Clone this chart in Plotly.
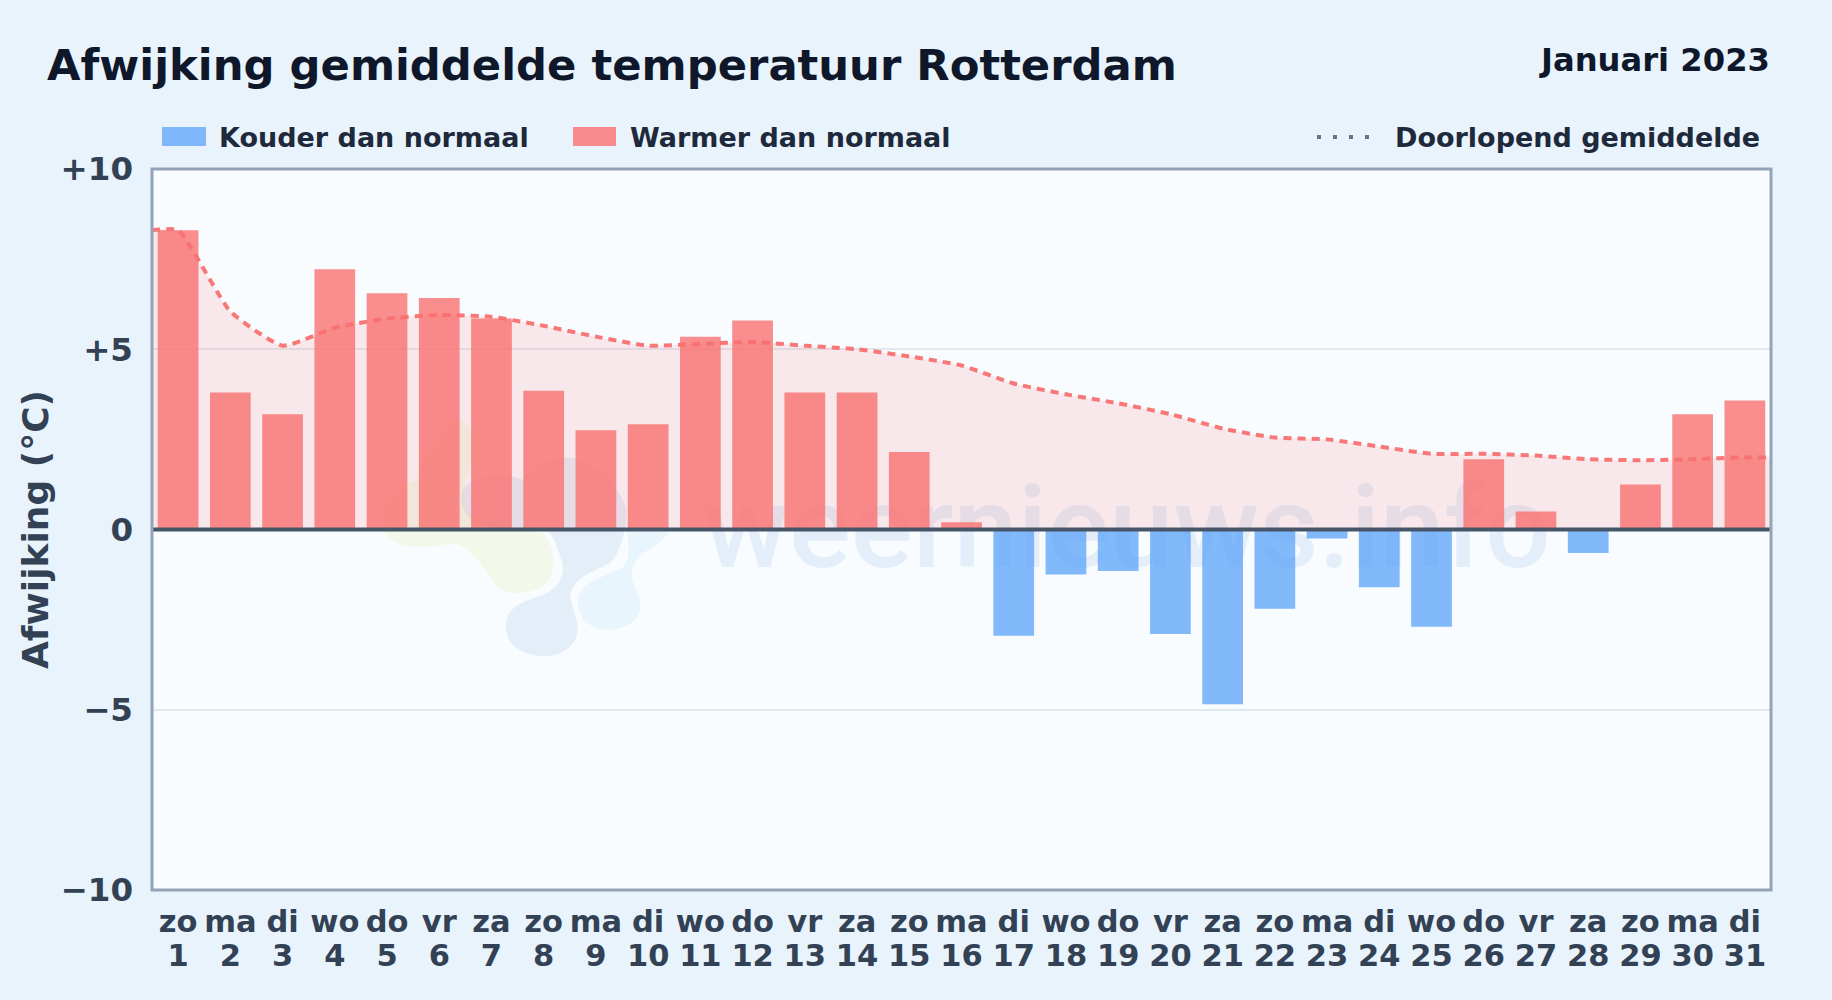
import re
import plotly.graph_objects as go

days = ["zo","ma","di","wo","do","vr","za","zo","ma","di","wo","do","vr","za","zo","ma","di","wo","do","vr","za","zo","ma","di","wo","do","vr","za","zo","ma","di"]
dates = list(range(1, 32))
deviation = [8.3,3.8,3.2,7.22,6.55,6.42,5.85,3.85,2.75,2.92,5.35,5.8,3.8,3.8,2.15,0.2,-2.95,-1.25,-1.15,-2.9,-4.85,-2.2,-0.25,-1.6,-2.7,1.95,0.5,-0.65,1.25,3.2,3.58]
running_x = [0.5]+dates+[31.5]
running = [8.3,8.3,6.05,5.1,5.6,5.85,5.95,5.9,5.65,5.35,5.1,5.15,5.2,5.1,5.0,4.8,4.55,4.05,3.75,3.5,3.2,2.8,2.55,2.5,2.3,2.1,2.1,2.05,1.95,1.92,1.95,2.0,2.0]
y_ticks = [10,5,0,-5,-10]
y_labels = ["+10","+5","0","−5","−10"]

RED="rgba(250,113,113,0.8)"; BLUE="rgba(96,165,250,0.78)"
W,H=1832,1000
L,R,T,B=152,1771,169,890
px=lambda x:(x-L)/(R-L)
py=lambda y:(B-y)/(B-T)

def logo_path(s):
    # logo outline written in pixel-like units of a 3x crop; converted to paper fractions
    nums=iter(re.findall(r"[A-Za-z]|-?[\d.]+",s))
    out=[];isx=True
    for t in nums:
        if t.isalpha():
            out.append(t);isx=True
        else:
            v=float(t)
            out.append(f"{px(340+v/3):.5f}" if isx else f"{py(390+v/3):.5f}")
            isx=not isx
    return " ".join(out)

green="M130,425 C110,340 170,290 230,270 C250,190 310,100 360,90 C420,110 420,200 375,270 C370,320 370,360 400,385 C470,400 560,410 610,430 C650,480 650,540 620,580 C570,615 510,620 470,590 C430,540 410,480 340,460 C280,470 180,490 130,425 Z"
blue="M498,700 C500,650 560,630 600,618 C650,600 680,560 665,510 C650,470 640,430 610,410 C540,430 470,420 400,395 C360,360 350,310 385,280 C430,250 500,250 550,270 C580,220 650,195 700,205 C770,220 840,290 860,360 C860,420 840,490 810,520 C760,545 700,560 690,620 C700,670 725,700 705,750 C670,810 590,810 530,775 C505,755 495,730 498,700 Z"
lblue="M715,620 C730,570 800,560 850,530 C875,500 865,450 860,425 L985,425 C970,470 880,480 875,550 C880,600 905,620 900,660 C890,710 820,730 770,715 C720,690 710,660 715,620 Z"

fig=go.Figure()
fig.add_trace(go.Scatter(x=running_x,y=running,mode="lines",name="Doorlopend gemiddelde",
    line=dict(color="rgba(248,113,113,0.95)",width=4,dash="8px,6px",shape="spline",smoothing=0.5),
    fill="tozeroy",fillcolor="rgba(248,113,113,0.14)",hoverinfo="skip"))
fig.add_trace(go.Bar(x=dates,y=deviation,width=0.78,
    marker=dict(color=[RED if v>=0 else BLUE for v in deviation],line_width=0),name="Afwijking"))
fig.add_trace(go.Scatter(x=dates,y=[None]*31,xaxis="x2",mode="lines",showlegend=False,hoverinfo="skip"))

shapes=[
 dict(type="path",xref="paper",yref="paper",path=logo_path(green),fillcolor="rgba(232,245,205,0.4)",line_width=0,layer="below"),
 dict(type="path",xref="paper",yref="paper",path=logo_path(blue),fillcolor="rgba(205,222,240,0.45)",line_width=0,layer="below"),
 dict(type="path",xref="paper",yref="paper",path=logo_path(lblue),fillcolor="rgba(205,232,250,0.35)",line_width=0,layer="below"),
 dict(type="rect",xref="paper",yref="paper",x0=px(700),x1=px(1554),y0=py(464),y1=py(574),fillcolor="rgba(0,0,0,0)",line_width=0,layer="below",
      label=dict(text="weernieuws.info",textposition="middle center",font=dict(family="Roboto",size=115.5,weight=500,color="rgba(160,190,230,0.22)"))),
 dict(type="rect",xref="paper",yref="paper",x0=px(162),x1=px(206),y0=py(146),y1=py(127),fillcolor=BLUE,line_width=0,layer="above"),
 dict(type="rect",xref="paper",yref="paper",x0=px(573),x1=px(616),y0=py(146),y1=py(127),fillcolor=RED,line_width=0,layer="above"),
 dict(type="line",xref="paper",yref="paper",x0=px(1317),x1=px(1375),y0=py(137),y1=py(137),line=dict(color="#64748b",width=4,dash="4px,12px"),layer="above"),
 dict(type="line",xref="paper",yref="y",x0=0,x1=1,y0=0,y1=0,line=dict(color="#475569",width=4),layer="above"),
 dict(type="rect",xref="paper",yref="paper",x0=0,x1=1,y0=0,y1=1,fillcolor="rgba(0,0,0,0)",line=dict(color="#94a3b8",width=3),layer="above"),
]
F="DejaVu Sans"
def ann(x,y,t,size,col,xa="left"):
    return dict(x=px(x),y=py(y),xref="paper",yref="paper",text=f"<b>{t}</b>",showarrow=False,xanchor=xa,yanchor="middle",
                font=dict(family=F,size=size,color=col))
anns=[
 ann(45,65,"Afwijking gemiddelde temperatuur Rotterdam",43.3,"#0f172a"),
 ann(1772,60,"Januari 2023",32.2,"#0f172a","right"),
 ann(217,137,"Kouder dan normaal",27,"#1e293b"),
 ann(628,137,"Warmer dan normaal",27,"#1e293b"),
 ann(1762,137,"Doorlopend gemiddelde",27,"#1e293b","right"),
]
tickfont=dict(family=F,size=30.5,color="#334155",weight="bold")
fig.update_layout(width=W,height=H,autosize=False,margin=dict(l=L,r=W-R,t=T,b=H-B),
    paper_bgcolor="#e8f3fc",plot_bgcolor="#f8fcff",showlegend=False,barmode="overlay",
    shapes=shapes,annotations=anns,
    xaxis=dict(range=[0.5,31.5],tickmode="array",tickvals=dates,ticktext=days,showgrid=False,zeroline=False,
        showline=False,ticks="",ticklabelstandoff=10,tickangle=0,
        tickfont=tickfont),
    xaxis2=dict(range=[0.5,31.5],overlaying="x",side="bottom",anchor="y",tickmode="array",tickvals=dates,ticktext=[str(d) for d in dates],
        showgrid=False,zeroline=False,showline=False,ticks="",ticklabelstandoff=44,tickangle=0,tickfont=tickfont),
    yaxis=dict(range=[-10,10],tickmode="array",tickvals=y_ticks,ticktext=y_labels,gridcolor="#e2e8f0",gridwidth=1.5,zeroline=False,
        showline=False,ticks="",ticklabelstandoff=18,
        tickfont=dict(family=F,size=32.5,color="#334155",weight="bold"),
        title=dict(text="Afwijking (°C)",standoff=0,font=dict(family=F,size=36,color="#334155",weight="bold"))),
)
fig.write_html("out.html",config={"displayModeBar":False},post_script="document.body.style.margin='0';document.body.style.background='#e8f3fc';")
